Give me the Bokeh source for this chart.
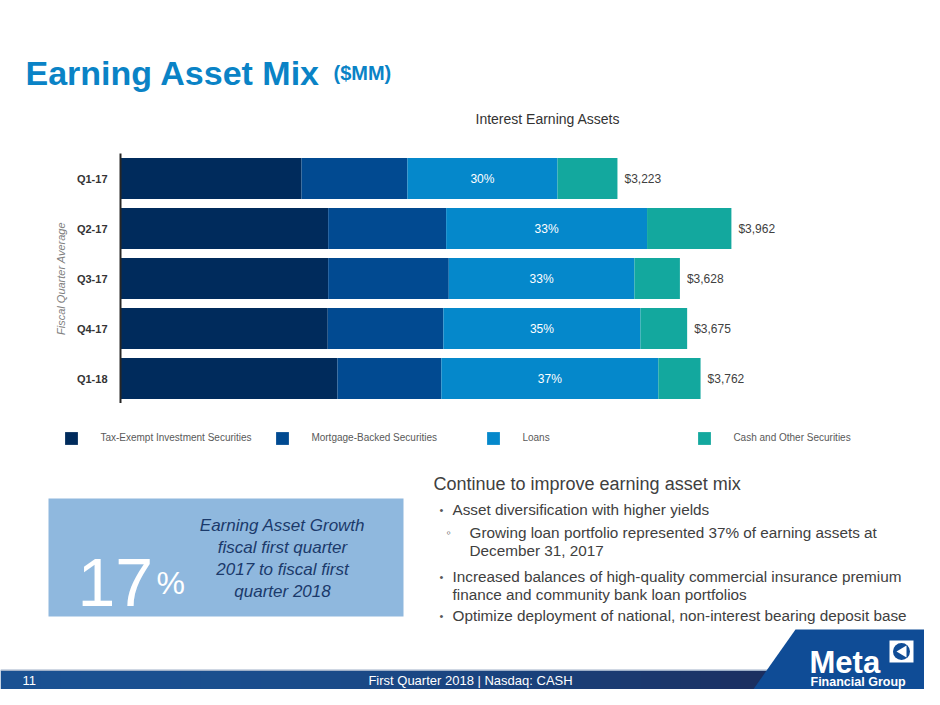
from bokeh.plotting import figure
from bokeh.layouts import column
from bokeh.models import ColumnDataSource, FactorRange, Range1d, Legend, LegendItem
from bokeh.core.properties import value
from bokeh.embed import file_html
from bokeh.resources import INLINE

# ---------------- data ----------------
quarters = ["Q1-17", "Q2-17", "Q3-17", "Q4-17", "Q1-18"]
tax_exempt = [1174, 1347, 1347, 1344, 1407]
mortgage_backed = [687, 765, 782, 750, 674]
loans = [973, 1303, 1204, 1278, 1407]
cash_other = [389, 547, 295, 303, 274]
total_labels = ["$3,223", "$3,962", "$3,628", "$3,675", "$3,762"]
loan_pct_labels = ["30%", "33%", "33%", "35%", "37%"]
series_keys = ["te", "mbs", "loans", "cash"]
series_names = ["Tax-Exempt Investment Securities", "Mortgage-Backed Securities",
                "Loans", "Cash and Other Securities"]
series_colors = ["#002b5c", "#014a91", "#0588cb", "#13a89e"]

W = 924
FONT = "Liberation Sans"
TOP_H, CHART_H, BOT_H = 153, 250, 286   # slide bands: 0-153, 153-403, 403-689


def deco_figure(y0, y1):
    f = figure(width=W, height=y1 - y0, output_backend="svg", toolbar_location=None,
               x_range=Range1d(0, W), y_range=Range1d(y1, y0), title=None,
               x_axis_location=None, y_axis_location=None, min_border=0, frame_align=False)
    f.outline_line_color = None
    f.grid.visible = False
    f.background_fill_color = "white"
    f.border_fill_color = "white"
    return f


def txt(f, x, y, s, size, color, style="normal", align="left", baseline="middle"):
    f.text(x=[x], y=[y], text=[s], text_font=value(FONT), text_font_size=size,
           text_color=color, text_font_style=style, text_align=align,
           text_baseline=baseline)


# ---------------- top band: titles ----------------
top = deco_figure(0, TOP_H)
txt(top, 25, 72, "Earning Asset Mix", "34px", "#0a83c6", "bold", baseline="alphabetic")
txt(top, 333, 72, "($MM)", "20px", "#0a83c6", "bold", baseline="alphabetic")
txt(top, 475, 118, "Interest Earning Assets", "14px", "#333333")

# ---------------- chart ----------------
totals = [a + b + c + d for a, b, c, d in zip(tax_exempt, mortgage_backed, loans, cash_other)]
loan_mid = [a + b + c / 2 for a, b, c in zip(tax_exempt, mortgage_backed, loans)]
src = ColumnDataSource(dict(q=quarters, te=tax_exempt, mbs=mortgage_backed, loans=loans,
                            cash=cash_other, total=totals, total_label=total_labels,
                            loan_mid=loan_mid, pct=loan_pct_labels))

p = figure(width=W, height=CHART_H, output_backend="svg", toolbar_location=None, title=None,
           y_range=FactorRange(factors=list(reversed(quarters)), range_padding=0),
           x_range=Range1d(0, 4929), x_axis_location=None, frame_align=False,
           min_border_left=120, min_border_right=44, min_border_top=0, min_border_bottom=0)
p.outline_line_color = None
p.grid.visible = False
p.background_fill_color = "white"
p.border_fill_color = "white"

renderers = p.hbar_stack(series_keys, y="q", height=0.82, color=series_colors,
                         line_color=None, source=src)
p.text(x="loan_mid", y="q", text="pct", source=src, text_align="center",
       text_baseline="middle", text_color="white", text_font=value(FONT),
       text_font_size="12px")
p.text(x="total", y="q", text="total_label", source=src, x_offset=7, text_align="left",
       text_baseline="middle", text_color="#404040", text_font=value(FONT),
       text_font_size="12px")

ax = p.yaxis[0]
ax.axis_line_color = "#262626"
ax.axis_line_width = 2
ax.major_tick_line_color = None
ax.minor_tick_line_color = None
ax.major_tick_out = 0
ax.major_tick_in = 0
ax.major_label_standoff = 13
ax.major_label_text_font = FONT
ax.major_label_text_font_size = "11px"
ax.major_label_text_font_style = "bold"
ax.major_label_text_color = "#333333"
ax.axis_label = "Fiscal Quarter Average"
ax.axis_label_text_font = FONT
ax.axis_label_text_font_size = "11px"
ax.axis_label_text_font_style = "italic"
ax.axis_label_text_color = "#808080"
ax.axis_label_standoff = 7

# ---------------- bottom band ----------------
bot = deco_figure(403, 689)

# legend: proxy renderers (one swatch each, placed outside the visible band)
proxy_src = ColumnDataSource(dict(l=[-50], r=[-40], t=[-50], b=[-40]))
leg_renderers = [bot.quad(left="l", right="r", top="t", bottom="b", source=proxy_src,
                          fill_color=c, line_color=None)
                 for c in series_colors]
legend = Legend(items=[LegendItem(label=n, renderers=[r])
                       for n, r in zip(series_names, leg_renderers)],
                orientation="horizontal", location=(63.4, BOT_H - 42.5), glyph_width=16,
                glyph_height=16, label_height=16, label_standoff=21, label_width=174,
                spacing=0, padding=0, margin=0, border_line_color=None,
                background_fill_alpha=0, label_text_font=FONT, label_text_font_size="10px",
                label_text_color="#595959")
bot.add_layout(legend)

# highlight box
bot.quad(left=[48], right=[403], top=[498], bottom=[616], fill_color="#8fb8de", line_color=None)
txt(bot, 77, 582, "17", "68px", "white", baseline="alphabetic")
txt(bot, 156, 582, "%", "32px", "white", baseline="alphabetic")
for s, yy in zip(["Earning Asset Growth", "fiscal first quarter", "2017 to fiscal first",
                  "quarter 2018"], [525, 547, 569, 591]):
    txt(bot, 282, yy, s, "17px", "#1b3a6b", "italic", align="center")

# bullets
txt(bot, 433, 483, "Continue to improve earning asset mix", "18px", "#404040")
BS = "15.3px"
txt(bot, 439, 509, "•", "11px", "#595959")
txt(bot, 452, 509, "Asset diversification with higher yields", BS, "#404040")
txt(bot, 446, 532, "◦", "13px", "#595959")
txt(bot, 469, 532, "Growing loan portfolio represented 37% of earning assets at", BS, "#404040")
txt(bot, 469, 550, "December 31, 2017", BS, "#404040")
txt(bot, 439, 576, "•", "11px", "#595959")
txt(bot, 452, 576, "Increased balances of high-quality commercial insurance premium", BS, "#404040")
txt(bot, 452, 594, "finance and community bank loan portfolios", BS, "#404040")
txt(bot, 439, 615, "•", "11px", "#595959")
txt(bot, 452, 615, "Optimize deployment of national, non-interest bearing deposit base", BS, "#404040")

# footer bar (horizontal gradient made of strips)
c0 = (26, 81, 146)
c1 = (27, 44, 92)
n = 40
lefts, rights, cols = [], [], []
for i in range(n):
    t = (i / (n - 1)) ** 2
    cols.append("#%02x%02x%02x" % tuple(int(round(a + (b - a) * t)) for a, b in zip(c0, c1)))
    lefts.append(i * 20)
    rights.append(i * 20 + 21)
bot.quad(left=lefts, right=rights, top=[670] * n, bottom=[700] * n, fill_color=cols,
         line_color=None)
bot.quad(left=[0], right=[780], top=[669], bottom=[670.5], fill_color="#9fb0c8", line_color=None)

# logo panel
bot.patch(x=[795, 930, 930, 745], y=[629, 629, 700, 700], fill_color="#0f4c96", line_color=None)
txt(bot, 809, 662, "Meta", "31px", "white", "bold", baseline="alphabetic")
bot.quad(left=[889], right=[913], top=[640], bottom=[662], fill_color="white", line_color=None)
bot.scatter(x=[901], y=[651], size=17, marker="circle", fill_color="#0f4c96", line_color=None)
bot.patch(x=[896, 906, 906], y=[651, 645, 657], fill_color="white", line_color=None)
txt(bot, 810, 681, "Financial Group", "12.5px", "white", "bold", baseline="alphabetic")

txt(bot, 22, 680, "11", "13px", "white")
txt(bot, 470, 680, "First Quarter 2018 | Nasdaq: CASH", "13px", "white", align="center")

layout = column(top, p, bot, spacing=0)
open("out.html", "w").write(file_html(layout, INLINE))
